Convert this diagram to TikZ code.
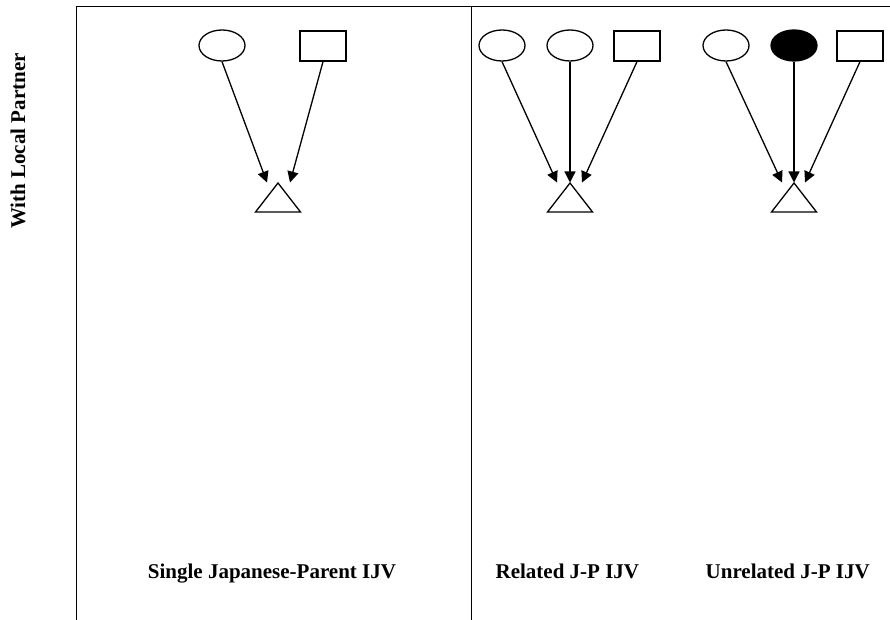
\documentclass[tikz,border=0pt]{standalone}
\usepackage{fontspec}
\setmainfont{Liberation Serif}
\usetikzlibrary{arrows.meta,shapes.geometric}
\begin{document}
\begin{tikzpicture}[x=1pt,y=-1pt,
  line width=1.3pt,
  ell/.style={draw,ellipse,minimum width=46pt,minimum height=31pt,inner sep=0pt},
  box/.style={draw,rectangle,minimum width=46pt,minimum height=30pt,inner sep=0pt},
  arr/.style={-{Triangle[length=11pt,width=11pt]}},
  tri/.style={draw,line join=miter},
  frameline/.style={line width=1pt},
  lab/.style={font=\fontsize{21}{25}\selectfont\bfseries,inner sep=0pt}]
\useasboundingbox (0,0) rectangle (890,620);
% frame
\coordinate (fbl) at (76,620);
\coordinate (ftl) at (76,7);
\coordinate (ftr) at (890,7);
\coordinate (fmt) at (471,7);
\coordinate (fmb) at (471,620);
\draw[frameline] (fbl) -- (ftl) -- (ftr);
\draw[frameline] (fmt) -- (fmb);
% row label
\node[lab,rotate=90,anchor=base] (rowlab) at (25,141) {With Local Partner};
% panel 1
\node[ell] (e1) at (222,45.5) {};
\node[box] (r1) at (323,46) {};
\coordinate (t1) at (278,183);
\draw[tri] (t1) -- ++(-22.5,29) -- ++(45,0) -- cycle;
\draw[arr] (e1.south) -- ([xshift=-11pt,yshift=0.5pt]t1);
\draw[arr] (r1.south) -- ([xshift=12pt,yshift=0.5pt]t1);
% panel 2
\node[ell] (e2a) at (502,45.5) {};
\node[ell] (e2b) at (570,45.5) {};
\node[box] (r2) at (637,46) {};
\coordinate (t2) at (570,183);
\draw[tri] (t2) -- ++(-22.5,29) -- ++(45,0) -- cycle;
\draw[arr] (e2a.south) -- ([xshift=-13pt,yshift=0.5pt]t2);
\draw[arr] (e2b.south) -- ([yshift=0.5pt]t2);
\draw[arr] (r2.south) -- ([xshift=12pt,yshift=0.5pt]t2);
% panel 3
\node[ell] (e3a) at (726,45.5) {};
\node[ell,fill=black] (e3b) at (794,45.5) {};
\node[box] (r3) at (860,46) {};
\coordinate (t3) at (794,183);
\draw[tri] (t3) -- ++(-22.5,29) -- ++(45,0) -- cycle;
\draw[arr] (e3a.south) -- ([xshift=-12pt,yshift=0.5pt]t3);
\draw[arr] (e3b.south) -- ([yshift=0.5pt]t3);
\draw[arr] (r3.south) -- ([xshift=11pt,yshift=0.5pt]t3);
% column labels
\node[lab,anchor=base] (c1) at (272,578) {Single Japanese-Parent IJV};
\node[lab,anchor=base west] (c2) at (495,578) {Related J-P IJV};
\node[lab,anchor=base west] (c3) at (705,578) {Unrelated J-P IJV};
\end{tikzpicture}
\end{document}
